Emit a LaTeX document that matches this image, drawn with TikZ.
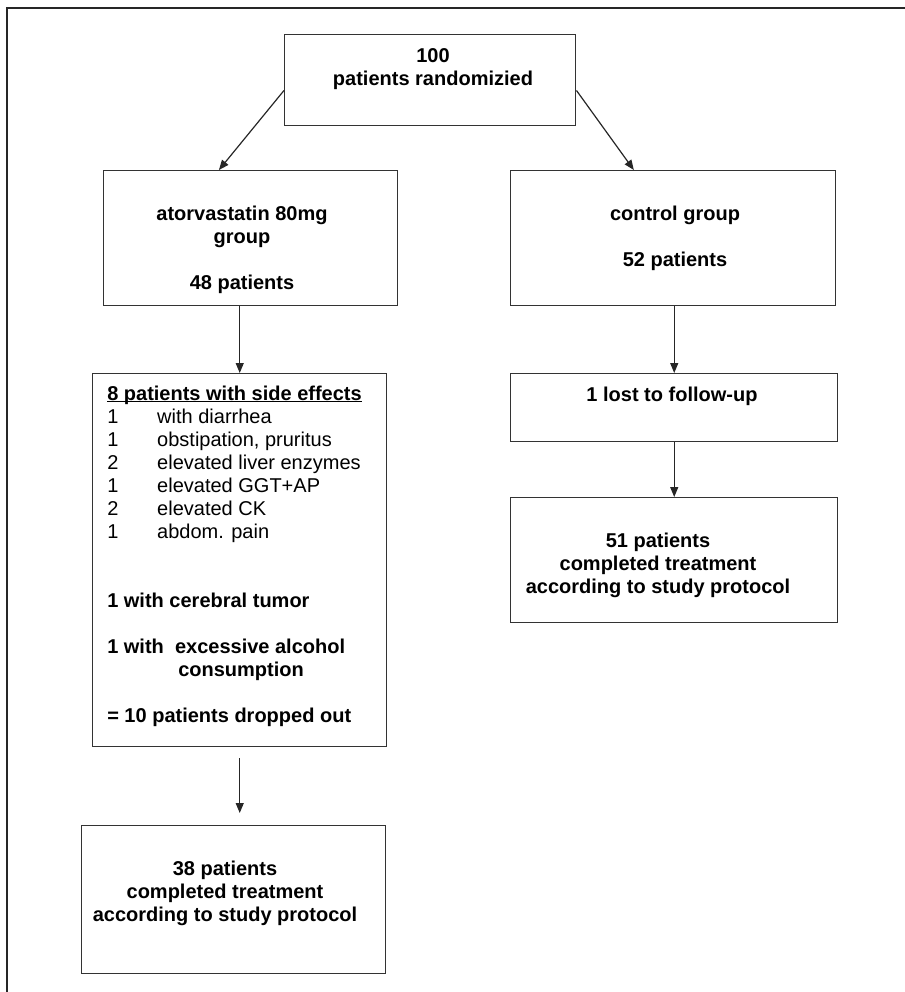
\documentclass[tikz,border=0pt]{standalone}
\usepackage{fontspec}
\setmainfont{Liberation Sans}
\usetikzlibrary{arrows.meta,positioning,calc}
\newcommand\ulhead[1]{\setbox0\hbox{#1}\rlap{\rule[-1.8pt]{\wd0}{1.1pt}}\box0}
\tikzset{
    box/.style={draw=black!80, line width=1.1pt, rectangle, inner sep=0pt, anchor=north west}, % the flow chart boxes
    txt/.style={font=\fontsize{15pt}{17.25pt}\selectfont\bfseries, inner sep=0pt, anchor=base, align=center}, % base = last line
    lst/.style={txt, anchor=base west, align=left},
    arr/.style={-{Triangle[length=7.5pt,width=6pt]}, line width=0.9pt, draw=black!85},
}

\begin{document}
\begin{tikzpicture}[x=0.75pt,y=-0.75pt]
  \useasboundingbox (0,0) rectangle (904,992);
  % frame
  \draw[line width=1.5pt, black!85] (7,1000) -- (7,8) -- (910,8);

  % boxes
  \node[box, minimum width=218.25pt, minimum height=68.25pt]  (rand)   at (284,34)  {};
  \node[box, minimum width=220.5pt,  minimum height=101.25pt] (atorva) at (103,170) {};
  \node[box, minimum width=243.75pt, minimum height=101.25pt] (ctrl)   at (510,170) {};
  \node[box, minimum width=220.5pt,  minimum height=279.75pt] (side)   at (92,373)  {};
  \node[box, minimum width=245.25pt, minimum height=51pt]     (lost)   at (510,373) {};
  \node[box, minimum width=245.25pt, minimum height=93.75pt]  (done51) at (510,497) {};
  \node[box, minimum width=228pt,    minimum height=111pt]    (done38) at (81,825)  {};

  % texts
  \node[txt] (rand-t)   at (433,85)  {100\\patients randomizied};
  \node[txt] (atorva-t) at (242,289) {atorvastatin 80mg\\group\\[17.25pt]48 patients};
  \node[txt] (ctrl-t)   at (675,266) {control group\\[17.25pt]52 patients};
  \node[lst] (side-t)   at (107,722) {\ulhead{8 patients with side effects}\\
      {\mdseries\makebox[37.5pt][l]{1}with diarrhea}\\
      {\mdseries\makebox[37.5pt][l]{1}obstipation, pruritus}\\
      {\mdseries\makebox[37.5pt][l]{2}elevated liver enzymes}\\
      {\mdseries\makebox[37.5pt][l]{1}elevated GGT+AP}\\
      {\mdseries\makebox[37.5pt][l]{2}elevated CK}\\
      {\mdseries\makebox[37.5pt][l]{1}abdom. pain}\\[34.5pt]
      1 with cerebral tumor\\[17.25pt]
      1 with\ \ excessive alcohol\\
      \hspace*{53.25pt}consumption\\[17.25pt]
      = 10 patients dropped out};
  \node[txt] (lost-t)   at (672,401) {1 lost to follow-up};
  \node[txt] (done51-t) at (658,593) {51 patients\\completed treatment\\according to study protocol};
  \node[txt] (done38-t) at (225,921) {38 patients\\completed treatment\\according to study protocol};

  % arrows
  \draw[arr] (rand.184.9) -- (atorva.115.4);
  \draw[arr] (rand.-4.9) -- (ctrl.120.3);
  \draw[arr] (atorva.south -| side.north) -- (side.north);
  \draw[arr] (ctrl.south -| lost.north) -- (lost.north);
  \draw[arr] (lost.south) -- (done51.north);
  \draw[arr, shorten <=8.25pt, shorten >=9pt] (side.south) -- (side.south |- done38.north);
\end{tikzpicture}
\end{document}
